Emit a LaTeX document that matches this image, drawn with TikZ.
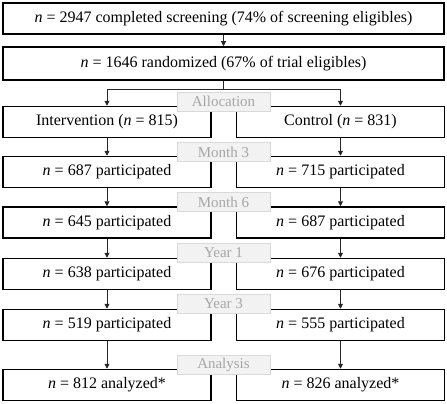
\documentclass[tikz,border=0pt]{standalone}
\usepackage{fontspec}
\setmainfont{Liberation Serif}
\usetikzlibrary{arrows.meta}
\definecolor{lblfill}{HTML}{F2F2F2}
\definecolor{lbldraw}{HTML}{D9D9D9}
\definecolor{lbltext}{HTML}{A6A6A6}
\definecolor{arr}{HTML}{262626}
\begin{document}
\begin{tikzpicture}[x=1pt,y=-1pt,
  boxw/.style={draw=black,line width=1.5pt,minimum width=441pt,minimum height=31pt,inner sep=0pt,font=\fontsize{16}{18}\selectfont},
  boxl/.style={draw=black,line width=1.5pt,minimum width=208pt,minimum height=31pt,inner sep=0pt,font=\fontsize{16}{18}\selectfont},
  lbl/.style={draw=lbldraw,fill=lblfill,line width=0.8pt,minimum width=93pt,minimum height=19pt,inner sep=0pt,text=lbltext,font=\fontsize{15}{16}\selectfont},
  arrw/.style={draw=arr,line width=0.9pt,-{Triangle[length=5pt,width=5pt]}}
]
\useasboundingbox (0,0) rectangle (447,404);
\node[boxw] (top) at (223.5,18.5) {\textit{n} = 2947 completed screening (74\% of screening eligibles)};
\node[boxw,minimum height=33pt] (rand) at (223.5,63.5) {\textit{n} = 1646 randomized (67\% of trial eligibles)};
\node[boxl] (l1) at (107,122) {Intervention (\textit{n} = 815)};
\node[boxl] (r1) at (340.5,122) {Control (\textit{n} = 831)};
\node[boxl] (l2) at (107,172) {\textit{n} = 687 participated};
\node[boxl] (r2) at (340.5,172) {\textit{n} = 715 participated};
\node[boxl] (l3) at (107,222.5) {\textit{n} = 645 participated};
\node[boxl] (r3) at (340.5,222.5) {\textit{n} = 687 participated};
\node[boxl] (l4) at (107,274) {\textit{n} = 638 participated};
\node[boxl] (r4) at (340.5,274) {\textit{n} = 676 participated};
\node[boxl] (l5) at (107,325) {\textit{n} = 519 participated};
\node[boxl] (r5) at (340.5,325) {\textit{n} = 555 participated};
\node[boxl] (l6) at (107,385) {\textit{n} = 812 analyzed*};
\node[boxl] (r6) at (340.5,385) {\textit{n} = 826 analyzed*};
\draw[arrw] (top.south) -- (rand.north);
\coordinate (split) at (223.5,89);
\draw[draw=arr,line width=0.9pt] (rand.south) -- (split);
\draw[arrw] (split) -| (l1.north);
\draw[arrw] (split) -| (r1.north);
\foreach \a/\b in {l1/l2,l2/l3,l3/l4,l4/l5,l5/l6,r1/r2,r2/r3,r3/r4,r4/r5,r5/r6}
  \draw[arrw] (\a.south) -- (\b.north);
\node[lbl] (a0) at (223.5,101.5) {Allocation};
\node[lbl] (a1) at (223.5,152) {Month 3};
\node[lbl] (a2) at (223.5,202) {Month 6};
\node[lbl] (a3) at (223.5,253) {Year 1};
\node[lbl] (a4) at (223.5,304) {Year 3};
\node[lbl] (a5) at (223.5,364.5) {Analysis};
\end{tikzpicture}
\end{document}
